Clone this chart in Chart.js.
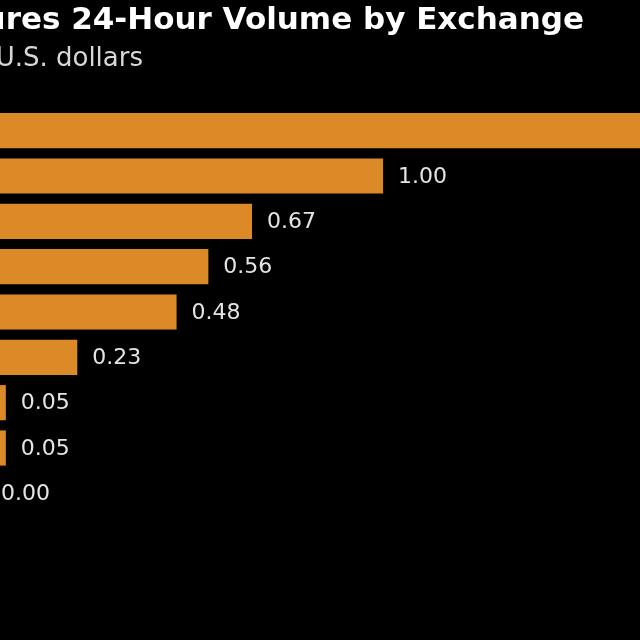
<!DOCTYPE html>
<html>
<head>
<meta charset="utf-8">
<script src="https://cdn.jsdelivr.net/npm/chart.js@4/dist/chart.umd.min.js"></script>
<style>
  html, body { margin: 0; padding: 0; background: #000; overflow: hidden; }
  #wrap { position: relative; width: 640px; height: 640px; }
</style>
</head>
<body>
<div id="wrap"><canvas id="c"></canvas></div>
<script>
// Data (exchanges sorted by 24-hour futures volume, billions USD)
const categories = ["OKEx", "Binance", "Huobi", "BitMEX", "Bybit", "Deribit", "FTX", "CME", "Bakkt"];
const volumes = [1.85, 1.00, 0.67, 0.56, 0.48, 0.23, 0.05, 0.05, 0.00];
const titleText = "Bitcoin Futures 24-Hour Volume by Exchange";
const subtitleText = "In billions of U.S. dollars";

const BAR_COLOR = "#dc8a28";

const headerPlugin = {
  id: "header",
  afterDraw(chart) {
    const ctx = chart.ctx;
    ctx.save();
    ctx.textAlign = "right";
    ctx.textBaseline = "alphabetic";
    ctx.fillStyle = "#ffffff";
    ctx.font = "bold 31px 'DejaVu Sans'";
    ctx.fillText(titleText, 584, 29);
    ctx.fillStyle = "#d8d8d8";
    ctx.font = "26px 'DejaVu Sans'";
    ctx.fillText(subtitleText, 143, 66);
    ctx.restore();
  }
};

const valueLabels = {
  id: "valueLabels",
  afterDatasetsDraw(chart) {
    const ctx = chart.ctx;
    const xs = chart.scales.x;
    const meta = chart.getDatasetMeta(0);
    ctx.save();
    ctx.fillStyle = "#e4e4e4";
    ctx.font = "22px 'DejaVu Sans'";
    ctx.textAlign = "left";
    ctx.textBaseline = "middle";
    meta.data.forEach((bar, i) => {
      const v = chart.data.datasets[0].data[i];
      const x = xs.getPixelForValue(v) + 15;
      ctx.fillText(v.toFixed(2), x, bar.y + 1);
    });
    ctx.restore();
  }
};

new Chart(document.getElementById("c"), {
  type: "bar",
  data: {
    labels: categories,
    datasets: [{
      data: volumes,
      backgroundColor: BAR_COLOR,
      borderWidth: 0,
      barPercentage: 0.775,
      categoryPercentage: 1.0
    }]
  },
  options: {
    indexAxis: "y",
    responsive: true,
    maintainAspectRatio: false,
    animation: false,
    layout: { padding: { top: 108, bottom: 124, left: 0, right: 0 } },
    plugins: {
      legend: { display: false },
      title: { display: false },
      tooltip: { enabled: false }
    },
    scales: {
      // axis window starts slightly above zero: the bars' zero line sits just left of the view
      x: { display: false, min: 0.0353, max: 1.647, grid: { display: false } },
      y: { display: false, grid: { display: false } }
    }
  },
  plugins: [valueLabels, headerPlugin]
});
</script>
</body>
</html>
